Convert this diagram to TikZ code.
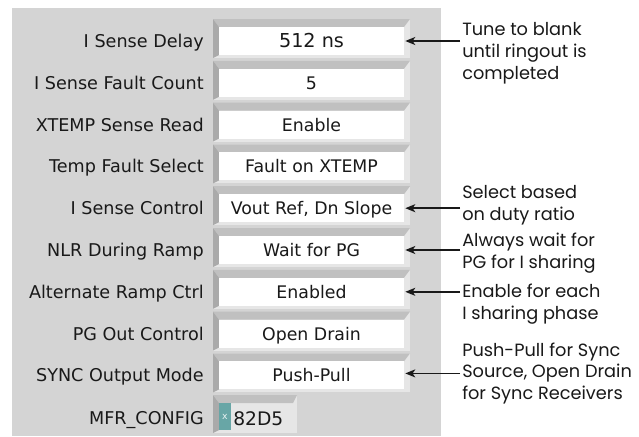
\documentclass[tikz,border=0pt]{standalone}
\usepackage{fontspec}
\setmainfont{DejaVu Sans}
\newfontfamily\notefont{Poppins}
\usetikzlibrary{arrows.meta,calc}
\definecolor{panel}{RGB}{212,212,212}
\definecolor{bevdark}{RGB}{170,170,170}
\definecolor{bevmid}{RGB}{192,192,192}
\definecolor{bevlight}{RGB}{230,230,230}
\definecolor{cellteal}{RGB}{104,166,166}
\definecolor{ink}{RGB}{25,25,25}
\begin{document}
\begin{tikzpicture}[x=0.75pt,y=-0.75pt,
  lab/.style={anchor=base east, inner sep=0pt, text=ink, font=\fontsize{13.2pt}{16pt}\selectfont},
  valbox/.style={fill=white, inner sep=0pt, minimum width=138.75pt, minimum height=21pt,
     text height=10pt, text depth=0.25pt, text=ink, font=\fontsize{13pt}{16pt}\selectfont},
  note/.style={anchor=west, inner sep=0pt, align=left, text=ink,
     font=\notefont\fontsize{13.3pt}{16.4pt}\selectfont},
  arr/.style={-{Stealth[length=7.5pt,width=6pt,inset=2pt]}, line width=1.2pt, draw=ink}]
\useasboundingbox (0,0) rectangle (639,436);
\fill[white] (0,0) rectangle (639,436);
\fill[panel] (12,8) rectangle (441,436);
% bevelled frames
\foreach \i in {0,...,8}{
  \pgfmathsetmacro\T{27+41.8*\i}
  \fill[bevlight] (213,{\T-8}) rectangle (410,{\T+31});
  \fill[bevmid] (213,{\T-8}) -- (410,{\T-8}) -- (404,\T) -- (219,\T) -- cycle;
  \fill[bevdark] (213,{\T-8}) -- (219,\T) -- (219,{\T+28}) -- (213,{\T+31}) -- cycle;
}
% MFR frame
\fill[bevlight] (213,395) rectangle (297,433);
\fill[bevmid] (213,395) -- (297,395) -- (293,403) -- (219,403) -- cycle;
\fill[bevdark] (213,395) -- (219,403) -- (219,430) -- (213,433) -- cycle;
\fill[cellteal] (219,403) rectangle (231,430);

% labels
\node[lab] (l0) at (204,47.5) {I Sense Delay};
\node[lab] (l1) at (204,89.3) {I Sense Fault Count};
\node[lab] (l2) at (204,131.1) {XTEMP Sense Read};
\node[lab] (l3) at (204,172.9) {Temp Fault Select};
\node[lab] (l4) at (204,214.7) {I Sense Control};
\node[lab] (l5) at (204,256.5) {NLR During Ramp};
\node[lab] (l6) at (204,298.3) {Alternate Ramp Ctrl};
\node[lab] (l7) at (204,340.1) {PG Out Control};
\node[lab] (l8) at (204,381.9) {SYNC Output Mode};
\node[lab] (l9) at (204,424.5) {MFR\_CONFIG};

% value boxes
\node[valbox, font=\fontsize{14.4pt}{17pt}\selectfont] (v0) at (311.5,41) {512 ns};
\node[valbox] (v1) at (311.5,82.8) {5};
\node[valbox] (v2) at (311.5,124.6) {Enable};
\node[valbox] (v3) at (311.5,166.4) {Fault on XTEMP};
\node[valbox] (v4) at (311.5,208.2) {Vout Ref, Dn Slope};
\node[valbox] (v5) at (311.5,250) {Wait for PG};
\node[valbox] (v6) at (311.5,291.8) {Enabled};
\node[valbox] (v7) at (311.5,333.6) {Open Drain};
\node[valbox] (v8) at (311.5,375.4) {Push-Pull};
\node[inner sep=0pt, text=white!85!cellteal, font=\fontsize{7pt}{8pt}\selectfont] (vx) at (225,416.5) {x};
\node[anchor=base west, inner sep=0pt, text=ink, font=\fontsize{14pt}{16pt}\selectfont] (v9) at (233,425) {82D5};

% notes
\node[note] (n0) at (462,53.5) {Tune to blank\\until ringout is\\completed};
\node[note] (n4) at (462,205.5) {Select based\\on duty ratio};
\node[note] (n5) at (462,253.5) {Always wait for\\PG for I sharing};
\node[note] (n6) at (462,304.5) {Enable for each\\I sharing phase};
\node[note] (n8) at (462,373.5) {Push-Pull for Sync\\Source, Open Drain\\for Sync Receivers};

% arrows
\draw[arr] ($(v0.east -| n0.west)+(-2,0)$) -- ($(v0.east)+(1,0)$);
\draw[arr] ($(v4.east -| n4.west)+(-2,0)$) -- ($(v4.east)+(1,0)$);
\draw[arr] ($(v5.east -| n5.west)+(-2,0)$) -- ($(v5.east)+(1,0)$);
\draw[arr] ($(v6.east -| n6.west)+(-2,0)$) -- ($(v6.east)+(1,0)$);
\draw[arr] ($(v8.east -| n8.west)+(-2,-2)$) -- ($(v8.east)+(1,-2)$);
\end{tikzpicture}
\end{document}
